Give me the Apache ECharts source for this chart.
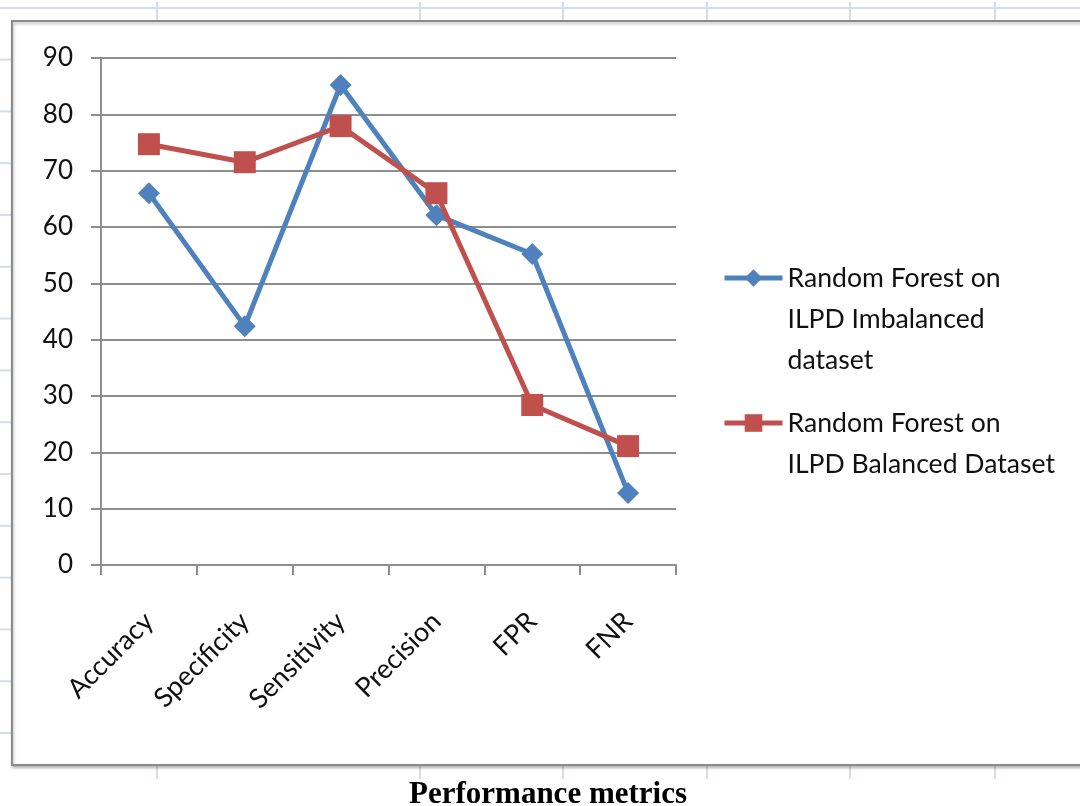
<!DOCTYPE html>
<html>
<head>
<meta charset="utf-8">
<script src="https://cdn.jsdelivr.net/npm/echarts@6/dist/echarts.min.js"></script>
<style>
  html, body { margin: 0; padding: 0; background: #ffffff; }
  #chart { width: 1080px; height: 806px; }
</style>
</head>
<body>
<div id="chart"></div>
<script>
// Metrics on the category axis
const categories = ['Accuracy', 'Specificity', 'Sensitivity', 'Precision', 'FPR', 'FNR'];

// Random Forest scores (%) on the ILPD data
const imbalancedScores = [66.0, 42.4, 85.2, 62.1, 55.2, 12.8];
const balancedScores   = [74.7, 71.5, 77.9, 66.0, 28.4, 21.1];

const seriesNames = [
  'Random Forest on\nILPD Imbalanced\ndataset',
  'Random Forest on\nILPD Balanced Dataset'
];

// Value axis range and step
const yMin = 0;
const yMax = 90;
const yStep = 10;

const xTitle = 'Performance metrics';

// Worksheet cell lines around the chart object
const sheetColumnX = [157, 420, 563, 707, 850, 995];
const sheetRowY = [];
for (let k = 0; k < 14; k++) sheetRowY.push(59.6 + 51.8 * k);

const BLUE = '#4F81BD';
const RED = '#C0504D';
const AXIS_GRAY = '#8e8e8e';
const SHEET_LINE = '#d6dde9';
const LABEL_FONT = 'Lato';

const chart = echarts.init(document.getElementById('chart'), null, { renderer: 'canvas' });

const sheetGraphics = [];
sheetGraphics.push({
  type: 'line', z: -10, silent: true,
  shape: { x1: 0, y1: 8, x2: 1080, y2: 8 },
  style: { stroke: SHEET_LINE, lineWidth: 2 }
});
sheetColumnX.forEach(function (x) {
  sheetGraphics.push({
    type: 'line', z: -10, silent: true,
    shape: { x1: x, y1: 2, x2: x, y2: 21 },
    style: { stroke: SHEET_LINE, lineWidth: 2 }
  });
  sheetGraphics.push({
    type: 'line', z: -10, silent: true,
    shape: { x1: x, y1: 766, x2: x, y2: 779 },
    style: { stroke: SHEET_LINE, lineWidth: 2 }
  });
});
sheetRowY.forEach(function (y) {
  sheetGraphics.push({
    type: 'line', z: -10, silent: true,
    shape: { x1: 0, y1: y, x2: 11, y2: y },
    style: { stroke: SHEET_LINE, lineWidth: 2 }
  });
});
// Chart object frame
sheetGraphics.push({
  type: 'rect', z: -5, silent: true,
  shape: { x: 12, y: 21, width: 1100, height: 744 },
  style: {
    fill: '#ffffff', stroke: '#8a8a8a', lineWidth: 2,
    shadowColor: 'rgba(0,0,0,0.25)', shadowBlur: 3, shadowOffsetX: 1, shadowOffsetY: 2
  }
});

// One legend per series, so that each icon can sit beside the first line
// of its (multi-line) name: blank lines are prepended so the first text
// line lands on the icon's vertical centre.
function legendFor(name, iconY) {
  const lines = name.split('\n').length;
  const lead = lines - 1;
  const lineH = 41;
  const total = (lines + lead) * lineH;
  return {
    data: [name],
    orient: 'vertical',
    left: 722,
    top: iconY - total / 2,
    padding: 0,
    itemWidth: 58,
    itemHeight: 22,
    itemGap: 0,
    lineStyle: { width: 5 },
    formatter: function (n) { return '\n'.repeat(lead) + n; },
    textStyle: {
      fontFamily: LABEL_FONT,
      fontSize: 26.6,
      lineHeight: lineH,
      color: '#111111'
    }
  };
}

const option = {
  backgroundColor: '#ffffff',
  animation: false,
  graphic: { elements: sheetGraphics },
  title: {
    text: xTitle,
    left: 548,
    textAlign: 'center',
    top: 779,
    padding: 0,
    textStyle: {
      fontFamily: 'Liberation Serif',
      fontWeight: 'bold',
      fontSize: 31,
      color: '#000000'
    }
  },
  legend: [
    legendFor(seriesNames[0], 278),
    legendFor(seriesNames[1], 423)
  ],
  grid: {
    left: 101,
    right: 1080 - 676,
    top: 58,
    bottom: 806 - 565,
    containLabel: false
  },
  xAxis: {
    type: 'category',
    data: categories,
    boundaryGap: true,
    axisLine: { show: true, lineStyle: { color: AXIS_GRAY, width: 2 } },
    axisTick: { show: true, inside: false, length: 10, alignWithLabel: false, lineStyle: { color: AXIS_GRAY, width: 2 } },
    axisLabel: {
      rotate: 45,
      margin: 52,
      interval: 0,
      fontFamily: LABEL_FONT,
      fontSize: 27,
      color: '#111111'
    },
    splitLine: { show: false }
  },
  yAxis: {
    type: 'value',
    min: yMin,
    max: yMax,
    interval: yStep,
    axisLine: { show: true, lineStyle: { color: AXIS_GRAY, width: 2 } },
    axisTick: { show: true, inside: false, length: 10, lineStyle: { color: AXIS_GRAY, width: 2 } },
    axisLabel: {
      margin: 28,
      fontFamily: LABEL_FONT,
      fontSize: 26,
      color: '#111111'
    },
    splitLine: { show: true, lineStyle: { color: AXIS_GRAY, width: 2 } }
  },
  series: [
    {
      name: seriesNames[0],
      type: 'line',
      data: imbalancedScores,
      symbol: 'diamond',
      symbolSize: 22,
      lineStyle: { color: BLUE, width: 5 },
      itemStyle: { color: BLUE },
      z: 3
    },
    {
      name: seriesNames[1],
      type: 'line',
      data: balancedScores,
      symbol: 'rect',
      symbolSize: 22,
      lineStyle: { color: RED, width: 5 },
      itemStyle: { color: RED },
      z: 4
    }
  ]
};

chart.setOption(option);
</script>
</body>
</html>
